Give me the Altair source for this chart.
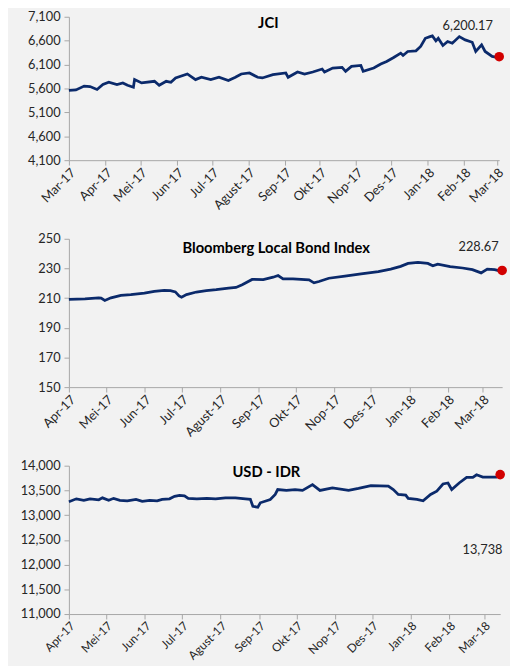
import altair as alt
import pandas as pd

MONTHS = ["Jan", "Feb", "Mar", "Apr", "Mei", "Jun", "Jul", "Agust", "Sep", "Okt", "Nop", "Des"]

# ---------------- JCI ----------------
jci_dates = [
    "2017-03-16", "2017-03-22", "2017-03-29", "2017-04-03", "2017-04-09", "2017-04-14",
    "2017-04-19", "2017-04-26", "2017-05-01", "2017-05-05", "2017-05-10", "2017-05-11",
    "2017-05-17", "2017-05-28", "2017-06-01", "2017-06-07", "2017-06-11", "2017-06-15",
    "2017-06-25", "2017-07-02", "2017-07-07", "2017-07-15", "2017-07-22", "2017-07-30",
    "2017-08-05", "2017-08-10", "2017-08-17", "2017-08-24", "2017-08-28", "2017-09-06",
    "2017-09-17", "2017-09-19", "2017-09-27", "2017-10-03", "2017-10-10", "2017-10-18",
    "2017-10-20", "2017-10-27", "2017-11-04", "2017-11-07", "2017-11-12", "2017-11-20",
    "2017-11-22", "2017-12-01", "2017-12-07", "2017-12-12", "2017-12-18", "2017-12-24",
    "2017-12-26", "2017-12-30", "2018-01-06", "2018-01-10", "2018-01-14", "2018-01-18",
    "2018-01-20", "2018-01-23", "2018-01-25", "2018-01-29", "2018-02-02", "2018-02-06",
    "2018-02-12", "2018-02-17", "2018-02-23", "2018-02-26", "2018-03-03", "2018-03-06",
    "2018-03-12", "2018-03-16", "2018-03-18",
]
jci_values = [
    5560, 5570, 5650, 5640, 5580, 5683,
    5730, 5683, 5716, 5668, 5627, 5786,
    5716, 5750, 5668, 5750, 5730, 5820,
    5903, 5786, 5834, 5786, 5834, 5766,
    5834, 5903, 5924, 5834, 5820, 5890,
    5924, 5834, 5945, 5903, 5945, 6007,
    5945, 6028, 6042, 5959, 6062, 6083,
    5959, 6028, 6110, 6166, 6249, 6339,
    6290, 6374, 6388, 6478, 6650, 6685,
    6700, 6596, 6650, 6498, 6581, 6546,
    6685, 6616, 6567, 6374, 6512, 6374,
    6270, 6249, 6265,
]
jci_ticks = ["2017-%02d-16" % m for m in range(3, 13)] + ["2018-01-16", "2018-02-16", "2018-03-16"]

# ---------------- Bloomberg Local Bond Index ----------------
bond_dates = [
    "2017-04-01", "2017-04-14", "2017-04-25", "2017-04-27", "2017-04-30", "2017-05-05",
    "2017-05-13", "2017-05-21", "2017-06-01", "2017-06-09", "2017-06-17", "2017-06-22",
    "2017-06-26", "2017-06-29", "2017-07-01", "2017-07-05", "2017-07-13", "2017-07-21",
    "2017-07-29", "2017-08-08", "2017-08-14", "2017-08-19", "2017-08-27", "2017-09-05",
    "2017-09-13", "2017-09-17", "2017-09-21", "2017-09-29", "2017-10-12", "2017-10-16",
    "2017-10-20", "2017-10-28", "2017-11-10", "2017-11-23", "2017-12-07", "2017-12-17",
    "2017-12-25", "2017-12-31", "2018-01-08", "2018-01-16", "2018-01-20", "2018-01-24",
    "2018-02-03", "2018-02-13", "2018-02-21", "2018-02-28", "2018-03-05", "2018-03-11",
    "2018-03-14", "2018-03-17",
]
bond_values = [
    209.1, 209.5, 210.2, 210.0, 208.4, 210.2,
    211.9, 212.4, 213.3, 214.6, 215.2, 215.0,
    214.2, 211.5, 210.6, 212.4, 214.1, 215.0,
    215.7, 216.8, 217.2, 219.0, 222.6, 222.5,
    224.1, 225.2, 223.0, 223.0, 222.3, 220.3,
    221.2, 223.4, 224.8, 226.3, 227.8, 229.6,
    231.4, 233.4, 234.1, 233.4, 231.8, 232.9,
    231.2, 230.3, 229.2, 227.0, 229.6, 229.2,
    228.5, 228.67,
]
bond_ticks = ["2017-%02d-01" % m for m in range(4, 13)] + ["2018-01-01", "2018-02-01", "2018-03-01"]

# ---------------- USD - IDR ----------------
usd_dates = [
    "2017-04-01", "2017-04-07", "2017-04-13", "2017-04-18", "2017-04-25", "2017-04-28",
    "2017-05-03", "2017-05-07", "2017-05-12", "2017-05-18", "2017-05-25", "2017-05-30",
    "2017-06-05", "2017-06-11", "2017-06-15", "2017-06-21", "2017-06-25", "2017-06-29",
    "2017-07-03", "2017-07-06", "2017-07-13", "2017-07-21", "2017-07-28", "2017-08-05",
    "2017-08-13", "2017-08-21", "2017-08-25", "2017-08-27", "2017-08-31", "2017-09-02",
    "2017-09-10", "2017-09-14", "2017-09-16", "2017-09-23", "2017-09-30", "2017-10-06",
    "2017-10-14", "2017-10-20", "2017-10-30", "2017-11-12", "2017-11-20", "2017-11-30",
    "2017-12-14", "2017-12-18", "2017-12-22", "2017-12-28", "2017-12-30", "2018-01-06",
    "2018-01-11", "2018-01-17", "2018-01-22", "2018-01-27", "2018-01-31", "2018-02-03",
    "2018-02-09", "2018-02-15", "2018-02-20", "2018-02-23", "2018-02-28", "2018-03-11",
    "2018-03-14",
]
usd_values = [
    13270, 13330, 13300, 13330, 13310, 13350,
    13300, 13340, 13300, 13290, 13320, 13280,
    13300, 13290, 13320, 13330, 13380, 13400,
    13390, 13340, 13330, 13340, 13330, 13350,
    13350, 13330, 13320, 13180, 13160, 13250,
    13318, 13418, 13518, 13500, 13518, 13500,
    13617, 13500, 13550, 13500, 13540, 13597,
    13585, 13518, 13418, 13405, 13338, 13318,
    13290, 13418, 13485, 13630, 13650, 13518,
    13650, 13763, 13763, 13817, 13770, 13770,
    13820,
]
usd_ticks = bond_ticks

FONT = "Lato"
LINE = "#0B2A6B"
DOT = "#D20000"
AXIS_GREY = "#A6A6A6"
TEXT = "#262626"

LABEL_EXPR = (
    "[" + ",".join("'%s'" % m for m in MONTHS) + "][utcmonth(datum.value)]"
    " + '-' + utcFormat(datum.value, '%y')"
)


def dt(s):
    y, m, d = (int(p) for p in s.split("-"))
    return alt.DateTime(year=y, month=m, date=d, utc=True)


def panel(dates, values, ydom, ystep, yfmt, ticks, xdom, width, height,
          title, title_xy, ann_text, ann_dxdy, xlabel_size=13):
    df = pd.DataFrame({"date": dates, "value": values})
    last = df.iloc[[-1]].assign(label=ann_text)

    x = alt.X(
        "date:T",
        scale=alt.Scale(type="utc", domain=[dt(xdom[0]), dt(xdom[1])]),
        axis=alt.Axis(
            values=[dt(t) for t in ticks], labelExpr=LABEL_EXPR, labelAngle=-45,
            title=None, grid=False, tickSize=5, labelPadding=1,
            labelOverlap=False, labelFlush=False, labelBound=False,
            labelFontSize=xlabel_size,
        ),
    )
    y = alt.Y(
        "value:Q",
        scale=alt.Scale(domain=list(ydom), nice=False, zero=False),
        axis=alt.Axis(
            values=list(range(ydom[0], ydom[1] + 1, ystep)), format=yfmt,
            title=None, grid=False, tickSize=5, labelPadding=4,
            minExtent=56, maxExtent=56, labelOverlap=False, labelFlush=False,
        ),
    )
    line = alt.Chart(df).mark_line(color=LINE, strokeWidth=2.8).encode(x=x, y=y)
    dot = alt.Chart(last).mark_circle(color=DOT, size=95, opacity=1).encode(x=x, y=y)
    ann = alt.Chart(last).mark_text(
        dx=ann_dxdy[0], dy=ann_dxdy[1], font=FONT, fontSize=13, color=TEXT
    ).encode(x=x, y=y, text="label:N")
    ttl = alt.Chart(last).mark_text(
        font=FONT, fontSize=15, fontWeight="bold", color="#000000"
    ).encode(x=alt.value(title_xy[0]), y=alt.value(title_xy[1]), text=alt.value(title))
    return alt.layer(line, dot, ann, ttl).properties(width=width, height=height)


p1 = panel(jci_dates, jci_values, (4100, 7100), 500, ",d", jci_ticks,
           ("2017-03-16", "2018-03-18"), 438, 146, "JCI", (203, 6),
           "6,200.17", (-32, -31))
p2 = panel(bond_dates, bond_values, (150, 250), 20, "d", bond_ticks,
           ("2017-04-01", "2018-03-17"), 441, 151, "Bloomberg Local Bond Index", (211, 9),
           "228.67", (-24, -24))
p3 = panel(usd_dates, usd_values, (11000, 14000), 500, ",d", usd_ticks,
           ("2017-04-01", "2018-03-14"), 439, 151, "USD - IDR", (201, 6),
           "13,738", (-18, 77), xlabel_size=12)

chart = (
    alt.vconcat(p1, p2, p3, spacing=21)
    .properties(background="#F2F2F2", padding={"left": 6, "top": -3, "right": 2, "bottom": 0})
    .configure_view(stroke=None)
    .configure_axis(
        labelFont=FONT, labelFontSize=13, labelColor=TEXT,
        domainColor=AXIS_GREY, tickColor=AXIS_GREY, domainWidth=1, tickWidth=1,
    )
)

chart.save("out.html", embed_options={"renderer": "svg", "actions": False})
